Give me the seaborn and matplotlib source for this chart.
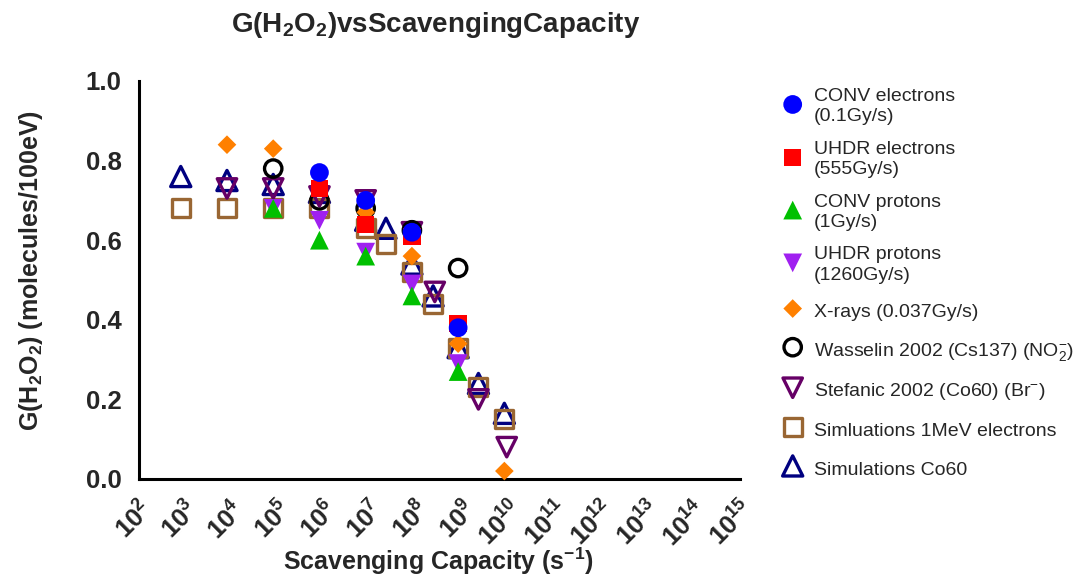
import numpy as np
import pandas as pd
import matplotlib
matplotlib.use("Agg")
import matplotlib.pyplot as plt
from matplotlib.ticker import FixedLocator, FixedFormatter, NullLocator
import seaborn as sns

# ---------------- data ----------------
conv_e_x = [8e5, 8e6, 8e7, 8e8]
conv_e_y = [0.77, 0.70, 0.62, 0.38]

uhdr_e_x = [8e5, 8e6, 8e7, 8e8]
uhdr_e_y = [0.73, 0.64, 0.61, 0.39]

conv_p_x = [8e4, 8e5, 8e6, 8e7, 8e8]
conv_p_y = [0.68, 0.60, 0.56, 0.46, 0.27]

uhdr_p_x = [8e4, 8e5, 8e6, 8e7, 8e8]
uhdr_p_y = [0.68, 0.65, 0.57, 0.49, 0.29]

xray_x = [8e3, 8e4, 8e6, 8e7, 8e8, 8e9]
xray_y = [0.84, 0.83, 0.67, 0.56, 0.34, 0.02]

wass_x = [8e4, 8e5, 8e6, 8e7, 8e8]
wass_y = [0.78, 0.70, 0.68, 0.625, 0.53]

stef_x = [8e3, 8e4, 8e5, 8e6, 8e7, 2.5e8, 2.2e9, 9e9]
stef_y = [0.73, 0.73, 0.71, 0.70, 0.62, 0.47, 0.20, 0.08]

sim_e_x = [8e2, 8e3, 8e4, 8e5, 8e6, 2.2e7, 8e7, 2.3e8, 8e8, 2.2e9, 8e9]
sim_e_y = [0.68, 0.68, 0.68, 0.68, 0.63, 0.59, 0.52, 0.44, 0.33, 0.23, 0.15]

sim_co_x = [8e2, 8e3, 8e4, 8e5, 8e6, 2.2e7, 8e7, 2.3e8, 8e8, 2.2e9, 8e9]
sim_co_y = [0.76, 0.75, 0.74, 0.72, 0.65, 0.63, 0.54, 0.46, 0.33, 0.24, 0.165]

x_tick_exponents = list(range(2, 16))
y_ticks = [0.0, 0.2, 0.4, 0.6, 0.8, 1.0]

# ---------------- style ----------------
sns.set_theme(style="white")
plt.rcParams["font.family"] = ["Liberation Sans", "DejaVu Sans"]
plt.rcParams["mathtext.fontset"] = "custom"
plt.rcParams["mathtext.rm"] = "Liberation Sans"
plt.rcParams["mathtext.bf"] = "Liberation Sans:bold"
plt.rcParams["mathtext.it"] = "Liberation Sans:italic"

W, H = 1089, 577
fig = plt.figure(figsize=(W / 100, H / 100), dpi=100)
ax = fig.add_axes([139 / W, 1 - 479 / H, (740 - 139) / W, (479 - 81) / H])

series = [
    dict(x=conv_e_x, y=conv_e_y, label="CONV electrons\n(0.1Gy/s)", marker="o",
         color="#0000FF", filled=True, s=13.5),
    dict(x=uhdr_e_x, y=uhdr_e_y, label="UHDR electrons\n(555Gy/s)", marker="s",
         color="#FF0000", filled=True, s=12.5),
    dict(x=conv_p_x, y=conv_p_y, label="CONV protons\n(1Gy/s)", marker="^",
         color="#00C000", filled=True, s=13.5),
    dict(x=uhdr_p_x, y=uhdr_p_y, label="UHDR protons\n(1260Gy/s)", marker="v",
         color="#A020F0", filled=True, s=13.5),
    dict(x=xray_x, y=xray_y, label="X-rays (0.037Gy/s)", marker="D",
         color="#FF8000", filled=True, s=9.5),
    dict(x=wass_x, y=wass_y, label="Wasselin 2002 (Cs137) (NO$_{2}^{-}$)", marker="o",
         color="#000000", filled=False, s=12.5),
    dict(x=stef_x, y=stef_y, label="Stefanic 2002 (Co60) (Br$^{-}$)", marker="v",
         color="#660066", filled=False, s=14),
    dict(x=sim_e_x, y=sim_e_y, label="Simluations 1MeV electrons", marker="s",
         color="#996633", filled=False, s=13),
    dict(x=sim_co_x, y=sim_co_y, label="Simulations Co60", marker="^",
         color="#000080", filled=False, s=14.5),
]

n = len(series)
for i, sd in enumerate(series):
    df = pd.DataFrame({"x": sd["x"], "y": sd["y"]})
    area = sd["s"] ** 2
    if sd["filled"]:
        sns.scatterplot(data=df, x="x", y="y", ax=ax, marker=sd["marker"], s=area,
                        color=sd["color"], edgecolor="none", linewidth=0,
                        label=sd["label"], zorder=3 + (n - i), clip_on=False)
    else:
        sns.scatterplot(data=df, x="x", y="y", ax=ax, marker=sd["marker"], s=area,
                        facecolor="none", edgecolor=sd["color"], linewidth=2.4,
                        label=sd["label"], zorder=3 + (n - i), clip_on=False)

ax.set_xscale("log")
ax.set_xlim(1e2, 1e15)
ax.set_ylim(0, 1.0)

xt = [10.0 ** e for e in x_tick_exponents]
ax.xaxis.set_major_locator(FixedLocator(xt))
ax.xaxis.set_major_formatter(FixedFormatter([r"$\mathbf{10^{%d}}$" % e for e in x_tick_exponents]))
ax.xaxis.set_minor_locator(NullLocator())
ax.set_yticks(y_ticks)
ax.set_yticklabels([f"{v:.1f}" for v in y_ticks])

for sp in ["top", "right"]:
    ax.spines[sp].set_visible(False)
for sp in ["left", "bottom"]:
    ax.spines[sp].set_linewidth(2.2)
    ax.spines[sp].set_color("black")

ax.tick_params(axis="both", which="major", direction="out", length=9.5, width=2.2,
               color="black", pad=3)
ax.tick_params(axis="y", labelsize=18.5)
ax.tick_params(axis="x", labelsize=18.5)
for lab in ax.get_yticklabels():
    lab.set_fontweight("bold")
for lab in ax.get_xticklabels():
    lab.set_rotation(45)
    lab.set_ha("right")
    lab.set_va("top")
    lab.set_rotation_mode("anchor")

ax.set_xlabel("")
ax.set_ylabel("G(H$_\\mathbf{2}$O$_\\mathbf{2}$) (molecules/100eV)", fontsize=18,
              fontweight="bold")
ax.yaxis.label.set_verticalalignment("center")
ax.yaxis.set_label_coords((31 - 139) / 601, (479 - 271) / 398)
fig.text(438 / W, 1 - 561 / H, "Scavenging Capacity (s$^\\mathbf{-1}$)",
         ha="center", va="center", fontsize=18, fontweight="bold")
fig.text(436 / W, 1 - 25 / H, "G(H$_\\mathbf{2}$O$_\\mathbf{2}$)vsScavengingCapacity",
         ha="center", va="center", fontsize=20, fontweight="bold")

handles, labels = ax.get_legend_handles_labels()
leg = ax.legend(handles, labels, loc="upper left", bbox_to_anchor=(782 / W, 1 - 88 / H),
                bbox_transform=fig.transFigure, frameon=False, fontsize=14,
                handlelength=1.1, handletextpad=0.55, labelspacing=0.8,
                handleheight=1.45, borderaxespad=0, borderpad=0)
for t in leg.get_texts():
    t.set_linespacing(1.25)

fig.savefig("out.png", dpi=100, facecolor="white")
